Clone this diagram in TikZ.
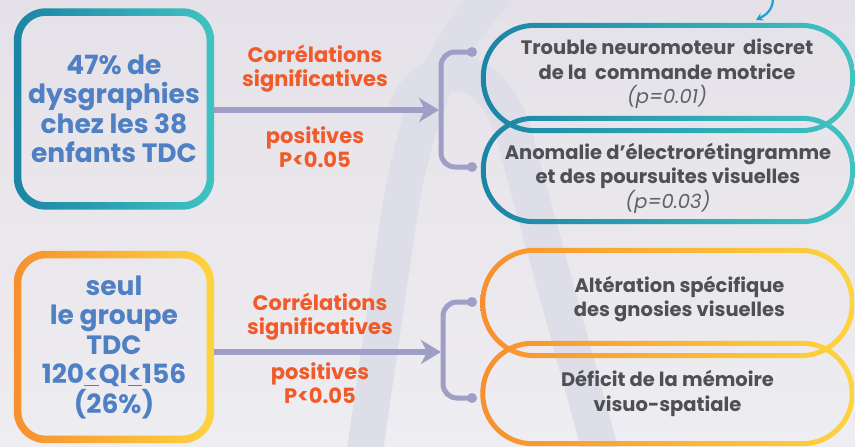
\documentclass[tikz,border=0pt]{standalone}
\usepackage{fontspec}
\setmainfont{Poppins}
\usetikzlibrary{arrows.meta, positioning, calc}
\definecolor{bgtop}{RGB}{229,225,232}
\definecolor{bgbot}{RGB}{238,237,241}
\definecolor{myband}{RGB}{222,222,232}
\definecolor{myblue}{RGB}{80,128,196}
\definecolor{myorange}{RGB}{241,90,41}
\definecolor{mygrey}{RGB}{78,80,84}
\definecolor{mygreyl}{RGB}{95,97,102}
\definecolor{mylav}{RGB}{158,158,198}
\definecolor{tealL}{RGB}{28,132,165}
\definecolor{tealR}{RGB}{64,195,194}
\definecolor{orangeL}{RGB}{247,144,47}
\definecolor{orangeR}{RGB}{253,212,62}
\definecolor{skyblue}{RGB}{30,159,210}
\tikzset{
  srcbox/.style={rectangle, minimum width=200, align=center, inner sep=0,
    font=\bfseries\fontsize{26.5}{29.5}\selectfont, text=myblue},
  pill/.style={rectangle, minimum width=374, inner sep=0},
  effect/.style={align=center, inner sep=0,
    font=\bfseries\fontsize{19.5}{24.5}\selectfont, text=mygrey},
  corrlabel/.style={align=center, inner sep=0,
    font=\bfseries\fontsize{21}{24}\selectfont, text=myorange},
  arrow/.style={-{Stealth[length=20pt, width=24pt, inset=6pt]}, line width=6pt,
    color=mylav, shorten >=2pt},
  bracket/.style={line width=5pt, color=mylav, rounded corners=14pt},
  enddot/.style={circle, fill=mylav, inner sep=0, minimum size=10pt},
  band/.style={line width=36pt, color=myband, line cap=butt}
}
% gradient frame round a node: node, left colour, right colour, radius, width
\newcommand{\gradring}[5]{%
  \shade[left color=#2, right color=#3, even odd rule]
    [rounded corners=#4] (#1.north west) rectangle (#1.south east)
    [rounded corners=#4-#5] ([shift={(#5,#5)}]#1.north west)
      rectangle ([shift={(-#5,-#5)}]#1.south east);}
\newcommand{\pv}[1]{{\mdseries\itshape\color{mygreyl}#1}}

\begin{document}
\begin{tikzpicture}[x=1pt, y=-1pt]
  \useasboundingbox (0,0) rectangle (855,447);
  \shade[top color=bgtop, bottom color=bgbot] (0,0) rectangle (855,447);

  % faint letter in the background
  \draw[band] (500,-10) .. controls (445,40) and (412,120) .. (397,230) -- (364,457);
  \draw[band] (405,112) .. controls (430,50) and (500,60) .. (518,150) -- (602,457);

  % sources
  \node[srcbox, minimum height=201] (src1) at (114,109)
    {47\% de\\dysgraphies\\chez les 38\\enfants TDC};
  \node[srcbox, minimum height=192] (src2) at (114,347)
    {seul\\le groupe\\TDC\\120\underline{<}QI\underline{<}156\\(26\%)};
  \gradring{src1}{tealL}{tealR}{32}{7.5}
  \gradring{src2}{orangeL}{orangeR}{32}{7.5}

  % effects
  \node[pill, minimum height=110] (eff1) at (668,78) {};
  \node[pill, minimum height=108] (eff2) at (668,170) {};
  \node[pill, minimum height=110] (eff3) at (667.5,303) {};
  \node[pill, minimum height=105] (eff4) at (667.5,393.5) {};
  \gradring{eff1}{tealL}{tealR}{54}{5}
  \gradring{eff2}{tealL}{tealR}{53}{5}
  \gradring{eff3}{orangeL}{orangeR}{54}{5}
  \gradring{eff4}{orangeL}{orangeR}{52}{5}

  \node[effect] (eff1txt) at ([shift={(-1,-4)}]eff1.center)
    {Trouble neuromoteur\ \ discret\\de la\ \ commande motrice\\\pv{(p=0.01)}};
  \node[effect] (eff2txt) at ([shift={(0,8)}]eff2.center)
    {Anomalie d’électrorétingramme\\et des poursuites visuelles\\\pv{(p=0.03)}};
  \node[effect] (eff3txt) at ([shift={(12,-4)}]eff3.center)
    {Altération spécifique\\des gnosies visuelles};
  \node[effect] (eff4txt) at (eff4.center)
    {Déficit de la mémoire\\visuo-spatiale};

  % labels
  \node[corrlabel] (corr1) at (315,69) {Corrélations\\significatives};
  \node[corrlabel] (pos1) at (315,147) {positives\\P<0.05};
  \node[corrlabel] (corr2) at (320,317) {Corrélations\\significatives};
  \node[corrlabel] (pos2) at (320,383) {positives\\P<0.05};

  % brackets
  \coordinate (j1) at (441,110);
  \coordinate (j2) at (443,352);
  \node[enddot] (dot1a) at (472,52) {};
  \node[enddot] (dot1b) at (472,167) {};
  \node[enddot] (dot2a) at (472,302) {};
  \node[enddot] (dot2b) at (472,398) {};
  \draw[bracket] (dot1a.center) -| (j1) |- (dot1b.center);
  \draw[bracket] (dot2a.center) -| (j2) |- (dot2b.center);

  \draw[arrow] (src1.east |- j1) -- (j1);
  \draw[arrow] (src2.east |- j2) -- (j2);

  % incoming arrow at the top
  \coordinate (in1) at (773,-2);
  \coordinate (in2) at (756,20);
  \draw[-{Stealth[length=7pt, width=8pt]}, line width=2.2pt, color=skyblue]
    (in1) .. controls (773,10) and (766,15) .. (in2);
\end{tikzpicture}
\end{document}
